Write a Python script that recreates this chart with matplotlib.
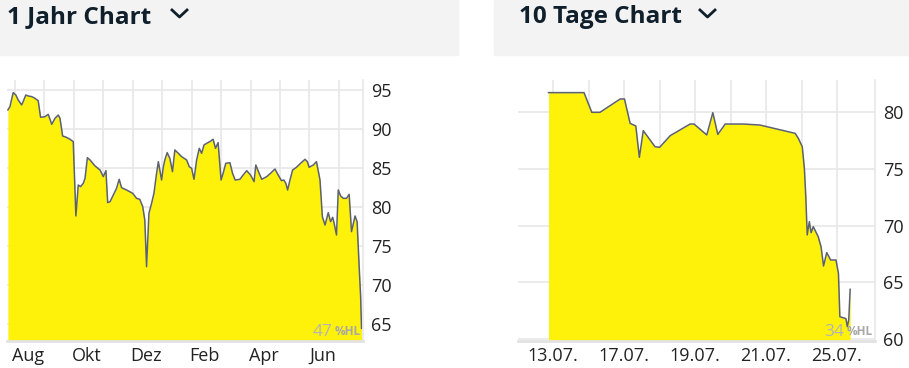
import numpy as np
import matplotlib.pyplot as plt
from matplotlib.patches import Rectangle
from matplotlib.lines import Line2D

# 1 Jahr: x in Monaten ab 1. Aug
jahr_x = [-0.24, -0.17, -0.06, 0.03, 0.11, 0.23, 0.37, 0.45, 0.57, 0.68, 0.79, 0.87,
          1.02, 1.13, 1.25, 1.36, 1.47, 1.53, 1.62, 1.75, 1.87, 1.98, 2.07, 2.15,
          2.23, 2.32, 2.38, 2.46, 2.55, 2.72, 2.89, 3.00, 3.09, 3.15, 3.23, 3.34,
          3.45, 3.54, 3.62, 3.79, 4.00, 4.13, 4.24, 4.34, 4.41, 4.47, 4.55, 4.64,
          4.72, 4.81, 4.87, 4.92, 4.98, 5.04, 5.09, 5.17, 5.26, 5.35, 5.43, 5.55,
          5.66, 5.83, 5.92, 6.00, 6.08, 6.17, 6.26, 6.34, 6.42, 6.51, 6.62, 6.73,
          6.81, 6.90, 7.00, 7.07, 7.16, 7.30, 7.39, 7.48, 7.64, 7.75, 7.87, 8.00,
          8.12, 8.18, 8.27, 8.38, 8.55, 8.68, 8.83, 8.94, 9.05, 9.13, 9.20, 9.26,
          9.34, 9.43, 9.56, 9.70, 9.85, 9.93, 9.99, 10.13, 10.24, 10.36, 10.44, 10.53,
          10.64, 10.72, 10.79, 10.84, 10.92, 10.98, 11.06, 11.15, 11.26, 11.35, 11.43, 11.55,
          11.62, 11.69, 11.74, 11.77]
jahr_y = [92.44, 92.86, 94.66, 94.36, 93.72, 93.08, 94.36, 94.23, 94.15, 93.93, 93.63, 91.50,
          91.58, 91.88, 90.60, 91.37, 91.79, 91.37, 89.10, 88.93, 88.68, 88.38, 78.85, 82.82,
          82.61, 83.03, 83.68, 86.32, 86.03, 85.26, 84.74, 83.89, 84.66, 80.56, 80.68, 81.54,
          82.39, 83.55, 82.48, 82.18, 81.75, 81.11, 80.98, 80.04, 78.33, 72.35, 79.19, 80.47,
          81.75, 84.32, 85.81, 84.74, 83.46, 85.17, 86.03, 86.97, 86.24, 84.53, 87.31, 86.88,
          86.45, 86.03, 85.17, 84.96, 83.55, 86.03, 87.52, 86.88, 87.95, 88.16, 88.38, 88.68,
          87.52, 88.25, 83.46, 84.32, 85.60, 85.68, 84.32, 83.46, 83.55, 84.10, 84.66, 84.10,
          83.25, 85.38, 84.53, 83.55, 83.89, 84.32, 84.87, 84.10, 83.38, 83.46, 83.03, 82.18,
          83.46, 84.74, 85.09, 85.60, 86.11, 85.81, 85.09, 85.38, 85.81, 83.46, 78.76, 77.69,
          79.27, 78.12, 78.68, 77.91, 76.41, 82.18, 81.41, 81.11, 81.11, 81.62, 76.84, 78.85,
          78.12, 72.35, 68.50, 64.44]
jahr_ticks = ['Aug', 'Okt', 'Dez', 'Feb', 'Apr', 'Jun']
jahr_hl = '47'

# 10 Tage: x in Handelstagen ab 13.07.
tage_x = [-0.13, 0.87, 1.09, 1.32, 1.89, 2.01, 2.17, 2.33, 2.43, 2.54, 2.87, 3.00,
          3.30, 3.86, 3.97, 4.33, 4.50, 4.64, 4.85, 5.36, 5.83, 6.82, 6.91, 7.02,
          7.08, 7.12, 7.16, 7.22, 7.27, 7.33, 7.47, 7.55, 7.62, 7.71, 7.82, 7.97,
          8.04, 8.08, 8.13, 8.25, 8.29, 8.33, 8.37]
tage_y = [81.68, 81.68, 79.95, 79.95, 81.12, 81.12, 78.98, 78.75, 75.99, 78.34, 76.93, 76.87,
          77.90, 78.92, 78.92, 77.96, 79.92, 78.01, 78.92, 78.92, 78.83, 78.10, 77.66, 76.93,
          75.03, 72.54, 69.17, 70.34, 69.37, 69.90, 69.02, 68.14, 66.44, 67.62, 66.97, 66.97,
          65.80, 61.99, 61.93, 61.82, 61.11, 61.70, 64.39]
tage_ticks = ['13.07.', '17.07.', '19.07.', '21.07.', '25.07.']
tage_hl = '34'

W, H = 909, 368
gelb = '#fff200'
linie = '#5b6170'
gitter = '#e8e8e8'
dunkel = '#0f1f2b'

fig = plt.figure(figsize=(W / 100, H / 100), dpi=100)
fig.patch.set_facecolor('white')

# Kopfzeilen
fig.patches.append(Rectangle((0, 1 - 55 / H), 458 / W, 55 / H, transform=fig.transFigure,
                             color='#f3f3f3', zorder=0))
fig.patches.append(Rectangle((494 / W, 1 - 55 / H), 415 / W, 55 / H, transform=fig.transFigure,
                             color='#f3f3f3', zorder=0))
fig.text(7 / W, 1 - 17 / H, '1 Jahr Chart', fontsize=17.5, fontweight='bold', family='Open Sans',
         color=dunkel, va='center', ha='left')
fig.text(519 / W, 1 - 17 / H, '10 Tage Chart', fontsize=17.5, fontweight='bold', family='Open Sans',
         color=dunkel, va='center', ha='left')
for x0 in (172, 700):
    fig.add_artist(Line2D([x0 / W, (x0 + 7.5) / W, (x0 + 15) / W],
                          [1 - 10 / H, 1 - 17 / H, 1 - 10 / H],
                          color=dunkel, lw=2.0, transform=fig.transFigure))


def chart(rect, xs, ys, xlim, ylim, grid_x, tick_pos, tick_labels, yticks, hl):
    ax = fig.add_axes(rect)
    ax.set_xlim(*xlim)
    ax.set_ylim(*ylim)
    ax.set_axisbelow(True)
    # senkrechte Gitterlinien an den Monats-/Tagesgrenzen
    ax.vlines(grid_x, 0, 1, transform=ax.get_xaxis_transform(), color=gitter, lw=1.2, zorder=0)
    ax.fill_between(xs, ys, ylim[0], color=gelb, alpha=0.96, lw=0, zorder=1)
    ax.plot(xs, ys, color=linie, lw=1.1, zorder=2)
    ax.set_xticks(tick_pos)
    ax.set_xticklabels(tick_labels, family='Open Sans', fontsize=13, color='#222222')
    ax.tick_params(axis='x', length=0, pad=4)
    ax.set_yticks(yticks)
    ax.set_yticklabels([str(v) for v in yticks], family='Open Sans', fontsize=13, color='#222222')
    ax.yaxis.tick_right()
    ax.tick_params(axis='y', length=0, pad=6)
    ax.grid(axis='y', color=gitter, lw=1.2)
    for s in ('top', 'left'):
        ax.spines[s].set_visible(False)
    ax.spines['right'].set_color(gitter)
    ax.spines['right'].set_linewidth(1.2)
    ax.spines['bottom'].set_color('#e2e2e2')
    ax.spines['bottom'].set_linewidth(2)
    ax.text(0.995, 0.012, '%HL', transform=ax.transAxes, ha='right', va='bottom',
            fontsize=8.5, fontweight='bold', family='Open Sans', color='#a8a8a8')
    ax.text(0.915, 0.005, hl, transform=ax.transAxes, ha='right', va='bottom',
            fontsize=12.5, family='Open Sans', color='#b4b4b4')
    return ax


ax1 = chart([7 / W, 27 / H, 356 / W, 261 / H], jahr_x, jahr_y, (-0.27, 11.82), (62.82, 96.28),
            np.arange(12), np.arange(0, 12, 2) + 0.45, jahr_ticks, [65, 70, 75, 80, 85, 90, 95], jahr_hl)
ax2 = chart([518 / W, 27 / H, 357 / W, 261 / H], tage_x, tage_y, (-0.99, 9.07), (59.85, 82.79),
            np.arange(9), np.arange(0, 9, 2), tage_ticks, [60, 65, 70, 75, 80], tage_hl)

fig.savefig('out.png', dpi=100)
